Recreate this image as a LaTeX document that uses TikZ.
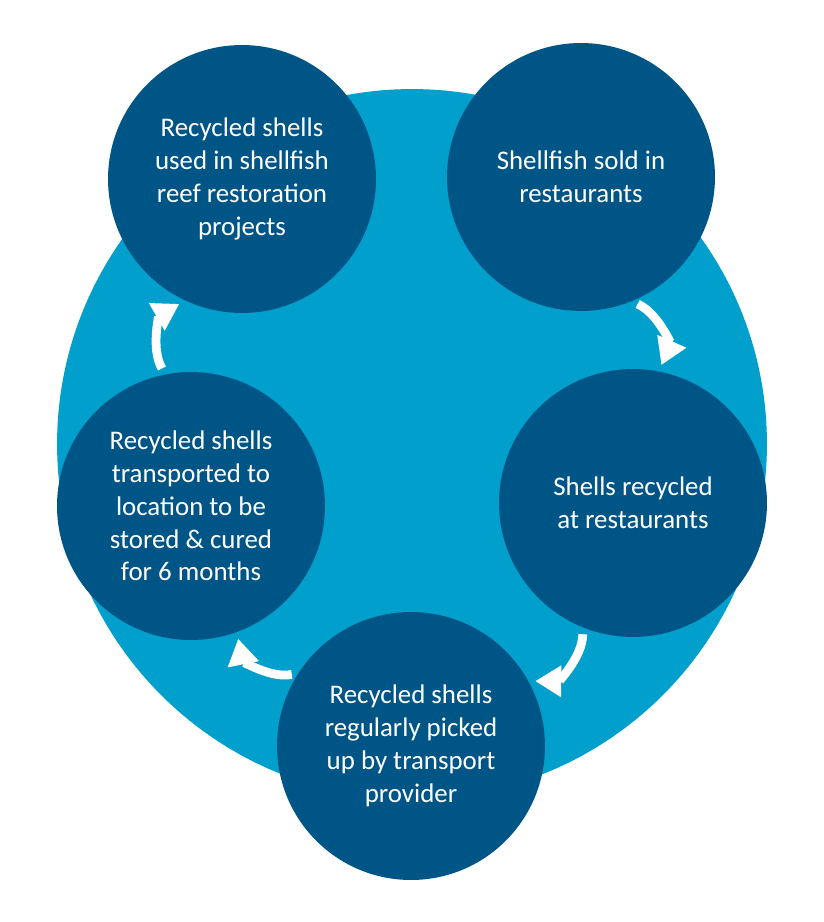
\documentclass[tikz,border=0pt]{standalone}
\usepackage{fontspec}
\setmainfont{Carlito}
\usetikzlibrary{arrows.meta}
\definecolor{lightblue}{RGB}{0,159,204}
\definecolor{darkblue}{RGB}{0,85,135}
\begin{document}
\begin{tikzpicture}[x=0.02cm,y=-0.02cm,
  stage/.style={circle,fill=darkblue,text=white,minimum size=5.36cm,inner sep=0pt,outer sep=0pt,align=center,font=\fontsize{15.3}{18.7}\selectfont},
  flow/.style={white,line width=5pt,shorten <=0.14cm,shorten >=0.14cm,-{Triangle[length=0.52cm,width=0.6cm]},bend left=45}]
\useasboundingbox (0,0) rectangle (824,922);
\fill[lightblue] (412,444) circle (7.1cm);
\node[stage] (restore) at (242,179) {Recycled shells\\used in shellfish\\reef restoration\\projects};
\node[stage] (sold) at (581,177) {Shellfish sold in\\restaurants};
\node[stage] (recycle) at (633,503) {Shells recycled\\at restaurants};
\node[stage] (pickup) at (411,746) {Recycled shells\\regularly picked\\up by transport\\provider};
\node[stage] (cure) at (191,506) {Recycled shells\\transported to\\location to be\\stored \& cured\\for 6 months};
\draw[flow] (sold.-68) to (recycle.79);
\draw[flow] (recycle.-112) to (pickup.29);
\draw[flow] (pickup.147) to (cure.-70);
\draw[flow] (cure.101) to (restore.-115);
\end{tikzpicture}
\end{document}
